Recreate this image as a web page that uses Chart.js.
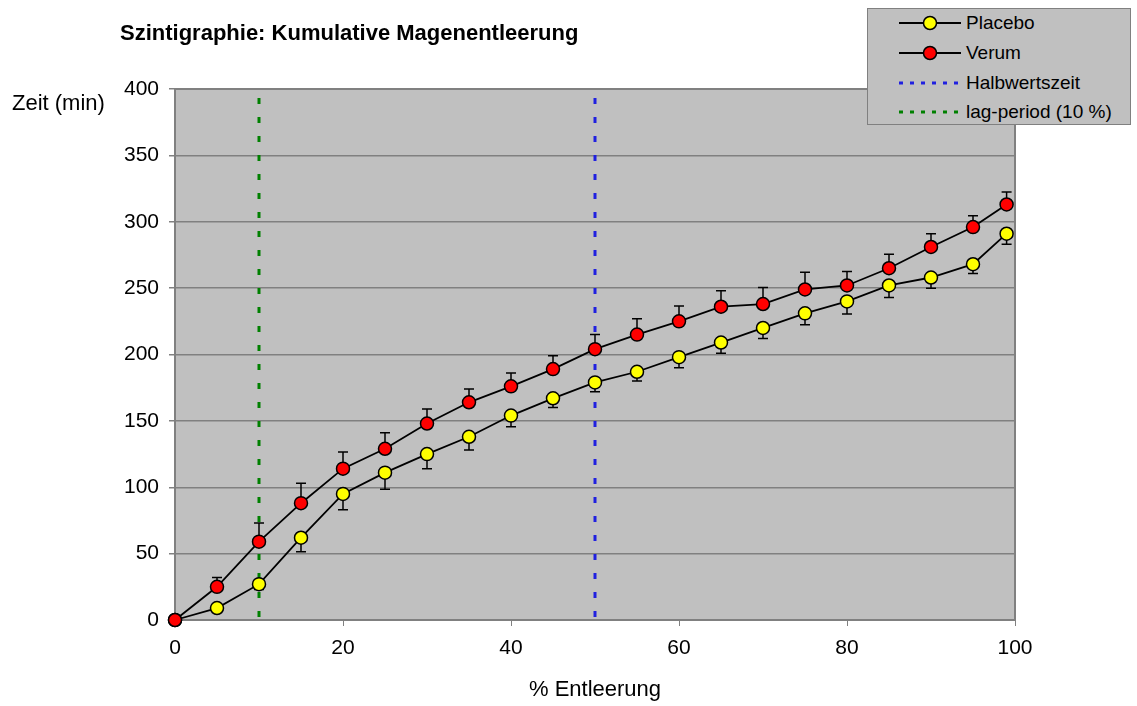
<!DOCTYPE html>
<html>
<head>
<meta charset="utf-8">
<script src="https://cdn.jsdelivr.net/npm/chart.js@4.4.1/dist/chart.umd.min.js"></script>
<style>
  body { margin: 0; background: #fff; font-family: 'Liberation Sans', Arial, sans-serif; }
  #wrap { position: relative; width: 1137px; height: 706px; }
  #legend {
    position: absolute; left: 867px; top: 8px; width: 264px; height: 117px;
    background: #c0c0c0; border: 1px solid #808080; box-sizing: border-box;
  }
  .row { position: absolute; left: 31px; height: 24px; display: flex; align-items: center; font-size: 19px; color: #000; }
  .row svg { margin-right: 5px; }
</style>
</head>
<body>
<div id="wrap">
  <canvas id="szintiChart" width="1137" height="706"></canvas>
  <div id="legend">
    <div class="row" style="top:2px"><svg width="62" height="16"><line x1="0" y1="8" x2="62" y2="8" stroke="#000" stroke-width="2"/><circle cx="31" cy="8" r="6.5" fill="#ffff00" stroke="#000" stroke-width="1.5"/></svg>Placebo</div>
    <div class="row" style="top:32px"><svg width="62" height="16"><line x1="0" y1="8" x2="62" y2="8" stroke="#000" stroke-width="2"/><circle cx="31" cy="8" r="6.5" fill="#ff0000" stroke="#000" stroke-width="1.5"/></svg>Verum</div>
    <div class="row" style="top:62px"><svg width="62" height="16"><line x1="0" y1="8" x2="62" y2="8" stroke="#2020e0" stroke-width="3" stroke-dasharray="4 7"/></svg>Halbwertszeit</div>
    <div class="row" style="top:91px"><svg width="62" height="16"><line x1="0" y1="8" x2="62" y2="8" stroke="#008000" stroke-width="3" stroke-dasharray="4 7"/></svg>lag-period (10 %)</div>
  </div>
</div>
<script>
// % Entleerung
const entleerung = [0, 5, 10, 15, 20, 25, 30, 35, 40, 45, 50, 55, 60, 65, 70, 75, 80, 85, 90, 95, 99];
// Zeit (min)
const placebo = [0, 9, 27, 62, 95, 111, 125, 138, 154, 167, 179, 187, 198, 209, 220, 231, 240, 252, 258, 268, 291];
const verum = [0, 25, 59, 88, 114, 129, 148, 164, 176, 189, 204, 215, 225, 236, 238, 249, 252, 265, 281, 296, 313];
// Standardfehler (Placebo nach unten, Verum nach oben)
const placeboErr = [0, 3, 4, 10.5, 12, 12.5, 11, 10, 8.5, 7, 7, 7, 8, 8, 8, 8.5, 9.5, 9, 8, 7, 8];
const verumErr = [0, 7, 14, 15, 12.5, 12, 11, 10, 10, 10, 11, 12, 11.5, 12, 12.5, 13, 10.5, 10.5, 10, 8.5, 9.5];
const halbwertszeit = 50;
const lagPeriod = 10;
const yTicks = [0, 400];
const xTicks = [0, 100];

const fontFamily = "'Liberation Sans', Arial, sans-serif";

function toPoints(xs, ys) {
    return xs.map((x, i) => ({ x: x, y: ys[i] }));
}

// Hintergrund + Rahmen der Zeichenfläche
const plotArea = {
    id: 'plotArea',
    beforeDraw(chart) {
        const { ctx, chartArea: a } = chart;
        ctx.save();
        ctx.fillStyle = '#c0c0c0';
        ctx.fillRect(a.left, a.top, a.width, a.height);
        ctx.restore();
    },
    beforeDatasetsDraw(chart) {
        const { ctx, chartArea: a } = chart;
        ctx.save();
        ctx.strokeStyle = '#808080';
        ctx.lineWidth = 2;
        ctx.strokeRect(a.left, a.top, a.width, a.height);
        ctx.restore();
    },
    afterDraw(chart) {
        const { ctx } = chart;
        ctx.save();
        ctx.fillStyle = '#000';
        ctx.font = '22px ' + fontFamily;
        ctx.textBaseline = 'middle';
        ctx.fillText('Zeit (min)', 12, 104);
        ctx.restore();
    }
};

// Fehlerbalken
const errorBars = {
    id: 'errorBars',
    beforeDatasetsDraw(chart) {
        const { ctx, scales: { x, y } } = chart;
        ctx.save();
        ctx.strokeStyle = '#000';
        ctx.lineWidth = 1.5;
        chart.data.datasets.forEach(ds => {
            if (!ds.errors) return;
            ds.data.forEach((p, i) => {
                const e = ds.errors[i];
                if (!e) return;
                const px = x.getPixelForValue(p.x);
                const y0 = y.getPixelForValue(p.y);
                const y1 = y.getPixelForValue(p.y + ds.errDir * e);
                ctx.beginPath();
                ctx.moveTo(px, y0);
                ctx.lineTo(px, y1);
                ctx.moveTo(px - 5, y1);
                ctx.lineTo(px + 5, y1);
                ctx.stroke();
            });
        });
        ctx.restore();
    }
};

const ctx = document.getElementById('szintiChart').getContext('2d');
new Chart(ctx, {
    type: 'line',
    data: {
        datasets: [
            {
                label: 'Verum',
                order: 0,
                clip: false,
                data: toPoints(entleerung, verum),
                errors: verumErr,
                errDir: 1,
                borderColor: '#000',
                borderWidth: 1.8,
                pointRadius: 6.5,
                pointBorderWidth: 1.5,
                pointBackgroundColor: '#ff0000',
                pointBorderColor: '#000'
            },
            {
                label: 'Placebo',
                order: 1,
                clip: false,
                data: toPoints(entleerung, placebo),
                errors: placeboErr,
                errDir: -1,
                borderColor: '#000',
                borderWidth: 1.8,
                pointRadius: 6.5,
                pointBorderWidth: 1.5,
                pointBackgroundColor: '#ffff00',
                pointBorderColor: '#000'
            },
            {
                label: 'Halbwertszeit',
                order: 2,
                data: [{ x: halbwertszeit, y: yTicks[1] }, { x: halbwertszeit, y: yTicks[0] }],
                borderColor: '#2020e0',
                borderWidth: 3,
                borderDash: [6, 13],
                borderDashOffset: -9,
                pointRadius: 0
            },
            {
                label: 'lag-period (10 %)',
                order: 3,
                data: [{ x: lagPeriod, y: yTicks[1] }, { x: lagPeriod, y: yTicks[0] }],
                borderColor: '#008000',
                borderWidth: 3,
                borderDash: [6, 13],
                borderDashOffset: -9,
                pointRadius: 0
            }
        ]
    },
    options: {
        responsive: false,
        animation: false,
        devicePixelRatio: 1,
        layout: { padding: { left: 120, right: 122, top: 0, bottom: 0 } },
        plugins: {
            legend: { display: false },
            tooltip: { enabled: false },
            title: {
                display: true,
                text: 'Szintigraphie: Kumulative Magenentleerung',
                align: 'start',
                color: '#000',
                font: { family: fontFamily, size: 22, weight: 'bold' },
                padding: { top: 21, bottom: 41.6 }
            }
        },
        scales: {
            x: {
                type: 'linear',
                min: xTicks[0],
                max: xTicks[1],
                ticks: { stepSize: 20, color: '#000', padding: 10, font: { family: fontFamily, size: 21 } },
                grid: { drawOnChartArea: false, drawTicks: true, tickLength: 6, color: '#808080' },
                border: { color: '#808080', width: 2 },
                title: { display: true, text: '% Entleerung', color: '#000', font: { family: fontFamily, size: 22 }, padding: { top: 0, bottom: 3 } },
                afterFit(scale) { scale.height = 86; }
            },
            y: {
                min: yTicks[0],
                max: yTicks[1],
                ticks: { stepSize: 50, color: '#000', padding: 10, font: { family: fontFamily, size: 21 } },
                grid: { color: '#808080', lineWidth: 1.5, tickLength: 6 },
                border: { color: '#808080', width: 2 },
                afterFit(scale) { scale.width = 55; }
            }
        }
    },
    plugins: [plotArea, errorBars]
});
</script>
</body>
</html>
